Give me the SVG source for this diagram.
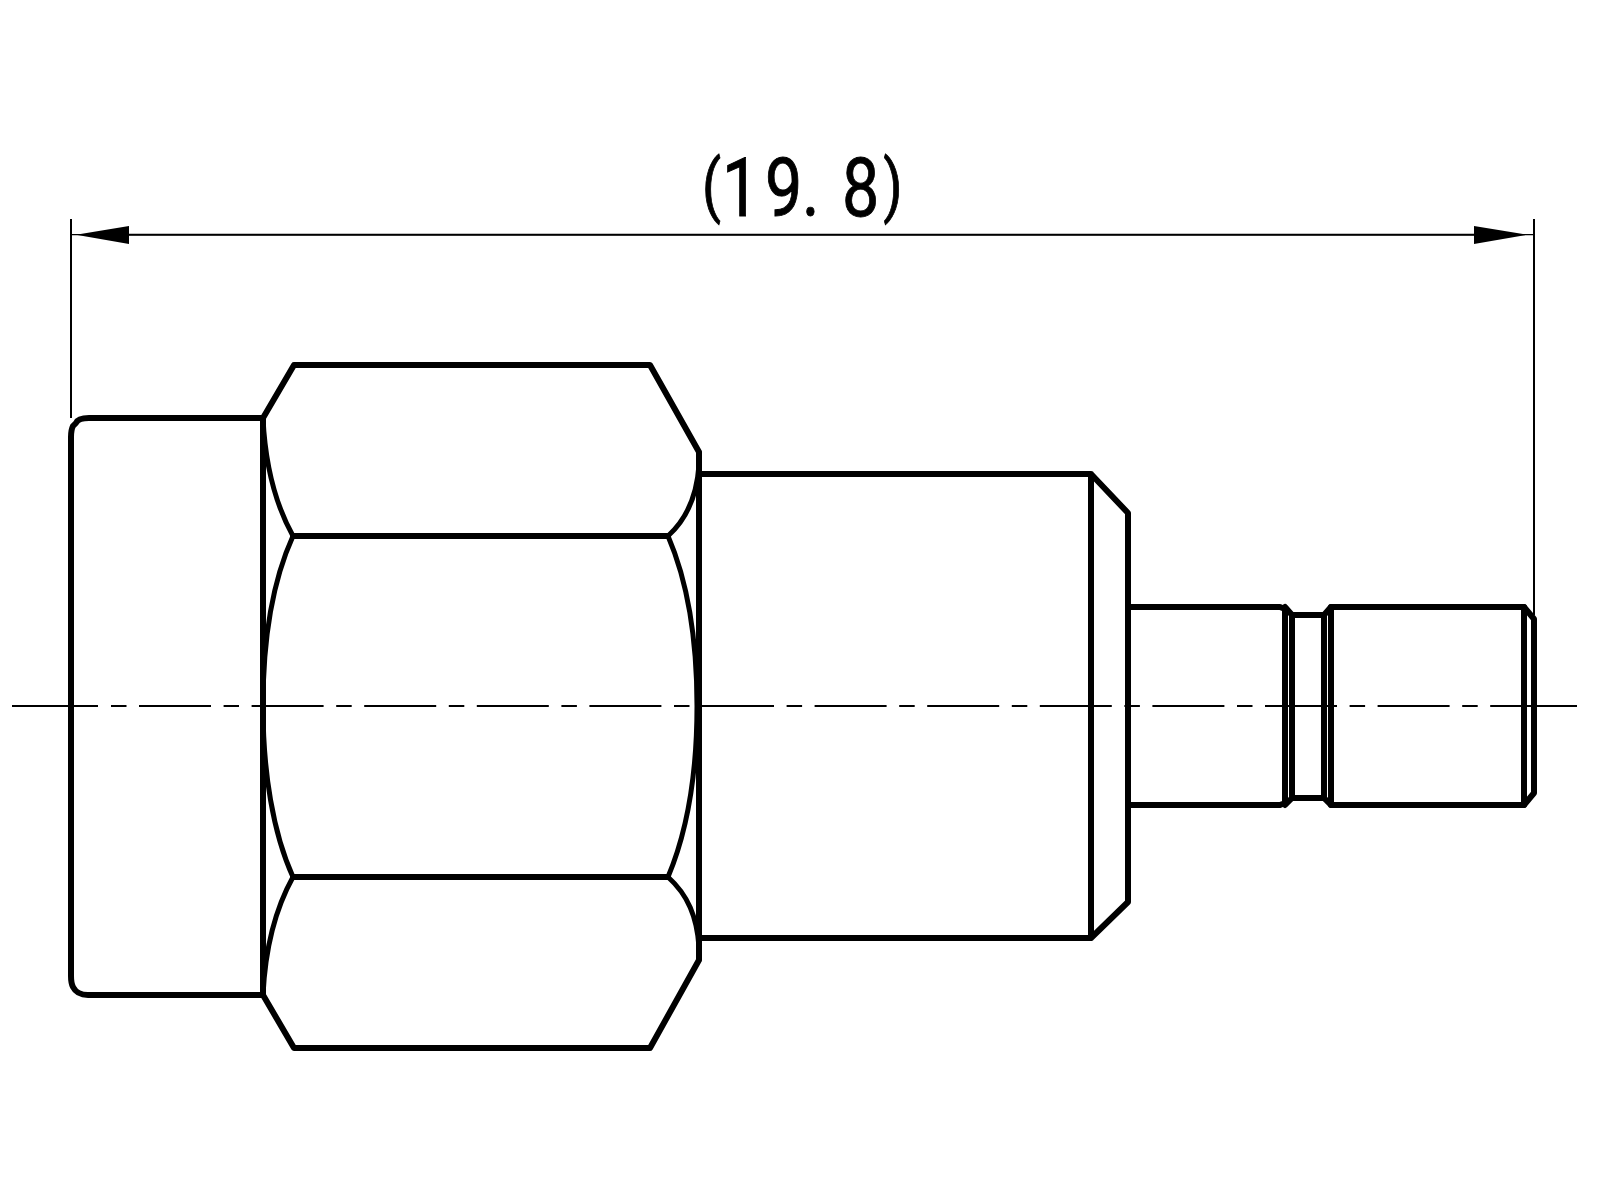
<svg xmlns="http://www.w3.org/2000/svg" width="1600" height="1200" viewBox="0 0 1600 1200">
<style>
.o{fill:none;stroke:#000;stroke-width:6;stroke-linejoin:round;stroke-linecap:round}
.a{fill:none;stroke:#000;stroke-width:5;stroke-linecap:round}
.t{fill:none;stroke:#000;stroke-width:2}
.h{fill:none;stroke:#000;stroke-width:1.2}
.d{fill:#000;stroke:none}
.l{font-family:Roboto,"Liberation Sans",Arial,sans-serif;font-size:81px;fill:#000;stroke:#000;stroke-width:.9}
.p{font-size:68px}
</style>
<rect width="1600" height="1200" fill="#fff"/>
<g id="flange"><path class="o" d="M263,418H89Q78,418 76,423L73,426Q71,430 71,437V976Q71,983 73,987Q77,995 88,995H263Z"/></g>
<g id="hex-nut">
<path class="o" d="M263,418L294,365H650L699,452V960L650,1048H294L263,995"/>
<path class="o" d="M293,536H668M293,877H668"/>
<path class="a" d="M263,418C265,460 273,500 293,536M263,995C265,953 273,913 293,877"/>
<path class="a" d="M293,536C273,580 263,640 263,706C263,772 273,833 293,877"/>
<path class="a" d="M699,452V465C697,495 688,518 668,536M699,960V947C697,917 688,895 668,877"/>
<path class="a" d="M668,536C687,580 697,640 697,706C697,772 687,832 668,877"/>
</g>
<g id="body"><path class="o" d="M699,474H1091L1128,513V902L1091,938H699M1091,474V938"/></g>
<g id="tip">
<path class="o" d="M1128,607H1280L1285,609V803L1280,805H1128"/>
<path class="o" d="M1285,607L1292,615H1324L1331,607H1524L1534,619V793L1524,805H1331L1324,798H1292L1285,805"/>
<path class="o" d="M1292,615V798M1324,615V798M1331,607V805M1524,607V805"/>
</g>
<g id="centre-line"><path class="t" d="M12,706H98M111,706H126.5M139,706H211M223.6,706H239M251.6,706H323.6M336.2,706H351.7M364.2,706H436.2M448.8,706H464.3M476.8,706H548.8M561.4,706H576.9M589.4,706H661.4M674,706H689.5M702,706H774M786.6,706H802.1M814.6,706H886.6M899.2,706H914.7M927.2,706H999.2M1011.8,706H1027.3M1039.8,706H1111.8M1124.4,706H1139.9M1152.4,706H1224.4M1237,706H1252.5M1265,706H1337M1349.6,706H1365.1M1377.6,706H1449.6M1462.2,706H1477.7M1490.2,706H1577"/></g>
<g id="dimension">
<path class="t" d="M71,219V418M1534,219V615M129,234.7H1474"/>
<path class="h" d="M71,234.7H1534"/>
<polygon class="d" points="76,234.7 129,226 129,244"/>
<polygon class="d" points="1527,234.7 1474,226 1474,244"/>
<text class="l" transform="translate(0,216) scale(.82,1)"><tspan class="p" x="856" y="-7.5">(</tspan><tspan x="880.5 932.9 978 1012 1026.8" y="0">19. 8</tspan><tspan class="p" x="1077" y="-7.5">)</tspan></text>
</g>
</svg>
